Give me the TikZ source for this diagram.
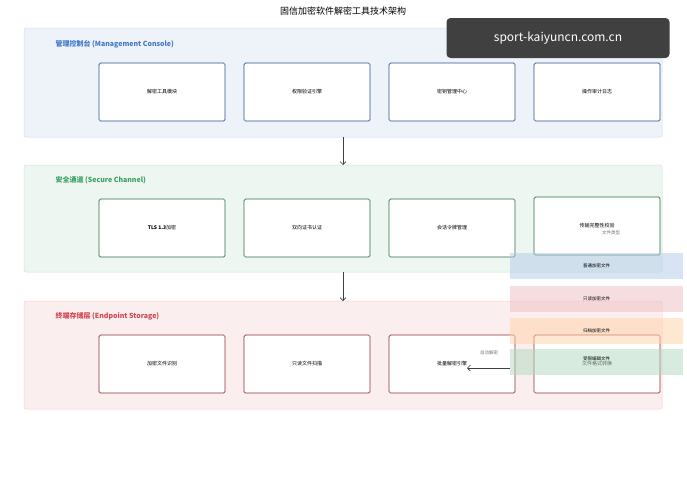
\documentclass[tikz,border=0pt]{standalone}
\usepackage{fontspec}
\setmainfont{Noto Sans CJK SC}
\usetikzlibrary{positioning,arrows.meta}
\tikzset{
  layer/.style={draw=#1!25, fill=#1!9, rounded corners=2pt, line width=0.5pt},
  module/.style={draw=#1!70!black, fill=white, rounded corners=1.5pt, line width=0.7pt,
    minimum width=126pt, minimum height=58pt, font=\fontsize{5}{6}\selectfont},
  layertitle/.style={anchor=west, font=\fontsize{7}{8}\selectfont\bfseries, text=#1},
  legendbar/.style={fill=#1, opacity=0.5, minimum width=173pt, minimum height=26pt,
    font=\fontsize{4.5}{5}\selectfont, text opacity=1},
  flow/.style={-{Straight Barb[length=3pt]}, line width=0.6pt, draw=black!75}
}
\definecolor{bluec}{RGB}{66,120,200}
\definecolor{greenc}{RGB}{60,160,100}
\definecolor{redc}{RGB}{210,70,80}
\begin{document}
\begin{tikzpicture}[x=1pt, y=-1pt]
  \useasboundingbox (0,0) rectangle (687,488);
  \fill[white] (0,0) rectangle (687,488);
  % title
  \node[font=\fontsize{9}{10}\selectfont] (title) at (343,11) {固信加密软件解密工具技术架构};
  % layers
  \draw[layer=bluec]  (24,28)  rectangle (662,137);
  \draw[layer=greenc] (24,165) rectangle (662,272);
  \draw[layer=redc]   (24,301) rectangle (662,409);
  \node[layertitle=bluec]  (consoletitle) at (52,44)  {管理控制台 (Management Console)};
  \node[layertitle=greenc] (channeltitle) at (52,180) {安全通道 (Secure Channel)};
  \node[layertitle=redc]   (storagetitle) at (52,316) {终端存储层 (Endpoint Storage)};
  % management console
  \node[module=bluec] (tool)  at (162,92) {解密工具模块};
  \node[module=bluec] (auth)  at (307,92) {权限验证引擎};
  \node[module=bluec] (keys)  at (452,92) {密钥管理中心};
  \node[module=bluec] (audit) at (597,92) {操作审计日志};
  % secure channel
  \node[module=greenc] (tls)     at (162,228) {\textbf{TLS 1.3}加密};
  \node[module=greenc] (cert)    at (307,228) {双向证书认证};
  \node[module=greenc] (session) at (452,228) {会话令牌管理};
  \node[module=greenc] (check)   at (597,226) {传输完整性校验};
  \node[font=\fontsize{4.5}{5}\selectfont, text=black!55] (typelabel) at (611,233) {文件类型};
  % endpoint storage
  \node[module=redc] (detect)  at (162,364) {加密文件识别};
  \node[module=redc] (scan)    at (307,364) {只读文件扫描};
  \node[module=redc] (batch)   at (452,364) {批量解密引擎};
  \node[module=redc] (convert) at (597,364) {文件格式转换};
  % file types
  \node[legendbar=bluec!40]     (normal)   at (596.5,266) {普通加密文件};
  \node[legendbar=redc!35]      (readonly) at (596.5,299) {只读加密文件};
  \node[legendbar=orange!35]    (archive)  at (596.5,331) {归档加密文件};
  \node[legendbar=greenc!40, text depth=6pt] (limited) at (596.5,362) {受限编辑文件};
  % flows
  \draw[flow] (343,137) coordinate (c1) -- (343,165);
  \draw[flow] (343,272) coordinate (c2) -- (343,301);
  \draw[flow] (limited.west |- 0,368) -- (467,368) coordinate (c3);
  \node[font=\fontsize{4.5}{5}\selectfont, text=black!55] (autolabel) at (489,353) {自动解密};
  % watermark
  \node[fill=black!75, rounded corners=4pt, text=white, font=\fontsize{12}{14}\selectfont,
    minimum width=223pt, minimum height=40pt] (mark) at (558,38) {sport-kaiyuncn.com.cn};
\end{tikzpicture}
\end{document}
